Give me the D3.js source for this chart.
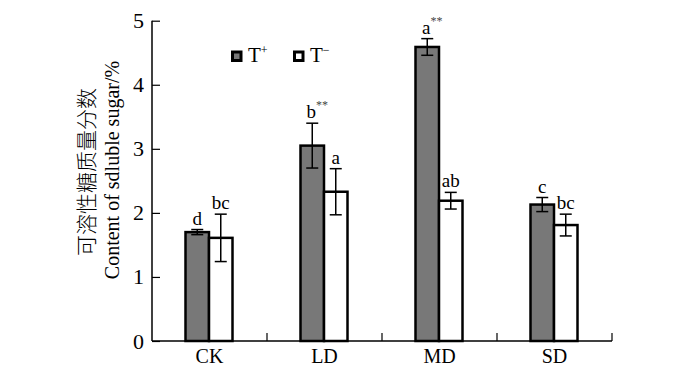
<!DOCTYPE html>
<html><head><meta charset="utf-8">
<script src="https://cdn.jsdelivr.net/npm/d3@7"></script>
<style>
body{margin:0;background:#fff;}
svg{display:block;}
</style></head>
<body>
<svg id="chart" width="700" height="369"></svg>
<script>
const categories = ["CK","LD","MD","SD"];
const seriesNames = ["T+","T-"];
const valuesTplus = [1.70, 3.05, 4.59, 2.13];
const errorsTplus = [0.04, 0.35, 0.13, 0.11];
const valuesTminus = [1.61, 2.33, 2.19, 1.81];
const errorsTminus = [0.37, 0.36, 0.13, 0.17];
const lettersTplus = ["d","b","a","c"];
const starsTplus = ["","**","**",""];
const lettersTminus = ["bc","a","ab","bc"];
const yTicks = [0,1,2,3,4,5];

(function(){
const SERIF = "'Liberation Serif', 'DejaVu Serif', serif";
const svg = d3.select("#chart").attr("font-family", SERIF);
const mLeft = 152, mRight = 612, mTop = 20.7, mBottom = 341;

const x0 = d3.scaleBand().domain(categories).range([mLeft, mRight]).padding(0);
const x1 = d3.scaleBand().domain(seriesNames).range([33.5, 80.5]).padding(0);
const y = d3.scaleLinear().domain([0,5]).range([mBottom, mTop]);

const fills = {"T+":"#787878","T-":"#ffffff"};

const data = [];
categories.forEach((c,i)=>{
  data.push({cat:c, s:"T+", v:valuesTplus[i], e:errorsTplus[i], lab:lettersTplus[i], star:starsTplus[i]});
  data.push({cat:c, s:"T-", v:valuesTminus[i], e:errorsTminus[i], lab:lettersTminus[i], star:""});
});

// bars
svg.append("g").selectAll("rect").data(data).join("rect")
  .attr("x", d=>x0(d.cat)+x1(d.s))
  .attr("y", d=>y(d.v))
  .attr("width", x1.bandwidth())
  .attr("height", d=>y(0)-y(d.v))
  .attr("fill", d=>fills[d.s])
  .attr("stroke","#000").attr("stroke-width",2.5);

// error bars
const eg = svg.append("g").attr("stroke","#000").attr("stroke-width",1.5);
data.forEach(d=>{
  const cx = x0(d.cat)+x1(d.s)+x1.bandwidth()/2;
  eg.append("line").attr("x1",cx).attr("x2",cx).attr("y1",y(d.v+d.e)).attr("y2",y(d.v-d.e));
  eg.append("line").attr("x1",cx-6).attr("x2",cx+6).attr("y1",y(d.v+d.e)).attr("y2",y(d.v+d.e));
  eg.append("line").attr("x1",cx-6).attr("x2",cx+6).attr("y1",y(d.v-d.e)).attr("y2",y(d.v-d.e));
});

// letters
data.forEach(d=>{
  const cx = x0(d.cat)+x1(d.s)+x1.bandwidth()/2;
  const t = svg.append("text").attr("x",cx + (d.star?5:0)).attr("y",y(d.v+d.e)-5)
    .attr("text-anchor","middle").attr("font-size",19).attr("font-family",SERIF).attr("fill","#000").text(d.lab);
  if(d.star){
    t.append("tspan").attr("dy",-9).attr("font-size",12).attr("fill","#444").text(d.star);
  }
});

// y axis
const yAxis = d3.axisLeft(y).tickValues(yTicks).tickSize(-8).tickPadding(8).tickFormat(d3.format("d"));
const gy = svg.append("g").attr("transform",`translate(${mLeft},0)`).call(yAxis);
gy.attr("font-family",SERIF);
gy.select(".domain").attr("d",`M0,${mTop}V${mBottom}`).attr("stroke","#000").attr("stroke-width",1.5);
gy.selectAll(".tick line").attr("stroke","#000").attr("stroke-width",1.2);
gy.selectAll(".tick text").attr("font-size",22).attr("font-family",SERIF).attr("fill","#000");

// x axis
const gx = svg.append("g").attr("transform",`translate(0,${mBottom})`);
gx.append("line").attr("x1",mLeft).attr("x2",mRight).attr("y1",0).attr("y2",0).attr("stroke","#000").attr("stroke-width",1.5);
categories.forEach((c,i)=>{
  const xe = x0(c)+x0.bandwidth();
  gx.append("line").attr("x1",xe).attr("x2",xe).attr("y1",0).attr("y2",-8).attr("stroke","#000").attr("stroke-width",1.2);
  gx.append("text").attr("x",x0(c)+x0.bandwidth()/2).attr("y",22).attr("text-anchor","middle")
    .attr("font-size",20).attr("font-family",SERIF).attr("fill","#000").text(c);
});

// y titles
svg.append("text").attr("transform","translate(94,172) rotate(-90)").attr("text-anchor","middle")
  .attr("font-size",21).attr("font-family","'Noto Sans CJK SC'").attr("font-weight",300).attr("fill","#000").text("可溶性糖质量分数");
svg.append("text").attr("transform","translate(119,170) rotate(-90)").attr("text-anchor","middle")
  .attr("font-size",20).attr("font-family",SERIF).attr("fill","#000").text("Content of sdluble sugar/%");

// legend
const legend = [{name:"T+", x:231, sup:"+"},{name:"T-", x:293, sup:"−"}];
legend.forEach(l=>{
  svg.append("rect").attr("x",l.x+1.5).attr("y",52).attr("width",8.5).attr("height",8.5)
    .attr("fill",fills[l.name]).attr("stroke","#000").attr("stroke-width",3);
  const t = svg.append("text").attr("x",l.x+17).attr("y",62).attr("font-size",21).attr("font-family",SERIF).attr("fill","#000").text("T");
  t.append("tspan").attr("dy",-8).attr("font-size",12).text(l.sup);
});
})();
</script>
</body></html>
